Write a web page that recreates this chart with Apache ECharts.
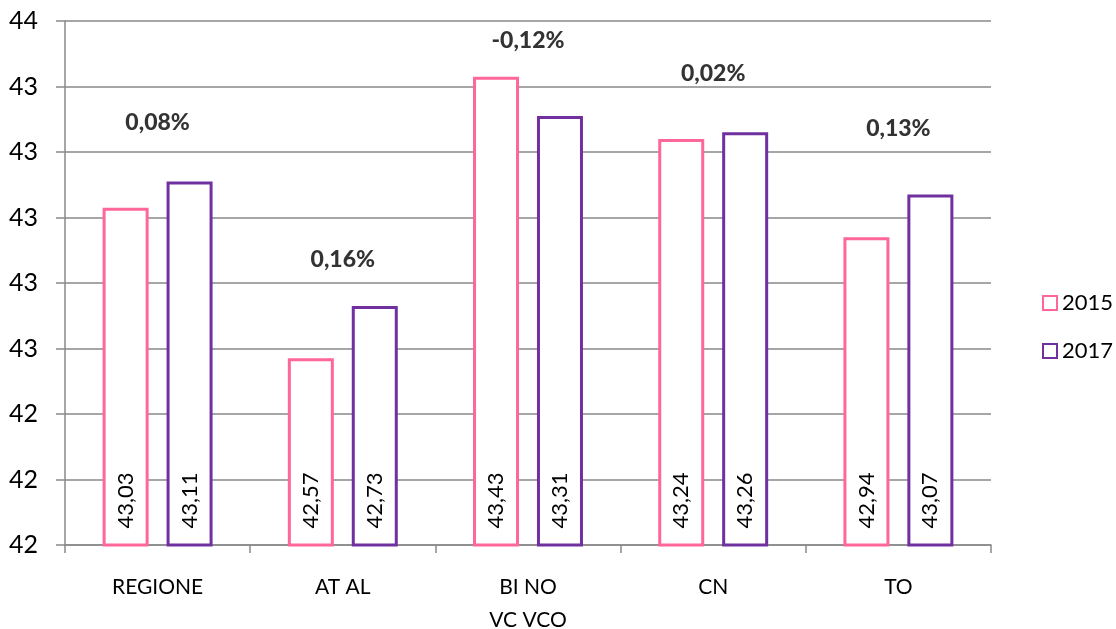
<!DOCTYPE html>
<html>
<head>
<meta charset="utf-8">
<script src="https://cdn.jsdelivr.net/npm/echarts@6/dist/echarts.min.js"></script>
<style>
  html, body { margin: 0; padding: 0; background: #fff; }
  #chart { width: 1116px; height: 629px; }
</style>
</head>
<body>
<div id="chart"></div>
<script>
// Average age by area, 2015 vs 2017
const categories = ['REGIONE', 'AT AL', 'BI NO\nVC VCO', 'CN', 'TO'];
const values2015 = [43.03, 42.57, 43.43, 43.24, 42.94];
const values2017 = [43.11, 42.73, 43.31, 43.26, 43.07];
// Percent change labels and the axis value at which each is written
const changeLabels = ['0,08%', '0,16%', '-0,12%', '0,02%', '0,13%'];
const changeAnchor = [43.29, 42.87, 43.54, 43.44, 43.27];

const FONT = 'Lato, "Liberation Sans", sans-serif';
const PINK = '#FF6699';
const PURPLE = '#7030A0';
const GRID = '#898989';

const fmt = v => v.toFixed(2).replace('.', ',');

function barSeries(name, data, color) {
  return {
    name: name,
    type: 'bar',
    data: data,
    barWidth: 46,
    barGap: '39%',
    itemStyle: { color: '#ffffff', borderColor: color, borderWidth: 3 },
    label: {
      show: true,
      position: 'insideBottom',
      rotate: 90,
      align: 'left',
      verticalAlign: 'middle',
      distance: 18,
      fontFamily: FONT,
      fontSize: 22,
      color: '#000',
      formatter: p => fmt(p.value)
    }
  };
}

const chart = echarts.init(document.getElementById('chart'));
chart.setOption({
  animation: false,
  grid: { left: 65, right: 125, top: 21, bottom: 84, containLabel: false, outerBoundsMode: 'none' },
  legend: {
    data: ['2015', '2017'],
    orient: 'vertical',
    left: 1037,
    top: 287,
    itemWidth: 14,
    itemHeight: 14,
    itemGap: 26,
    icon: 'rect',
    textStyle: { fontFamily: FONT, fontSize: 22, color: '#000' }
  },
  xAxis: {
    type: 'category',
    data: categories,
    axisLine: { lineStyle: { color: GRID, width: 1.5 } },
    axisTick: { show: true, length: 8, lineStyle: { color: GRID, width: 1.5 } },
    axisLabel: {
      margin: 26,
      fontFamily: FONT,
      fontSize: 21,
      color: '#000',
      lineHeight: 33
    }
  },
  yAxis: {
    type: 'value',
    min: 42,
    max: 43.6,
    interval: 0.2,
    axisLine: { show: true, lineStyle: { color: GRID, width: 1.5 } },
    axisTick: { show: true, length: 9, lineStyle: { color: GRID, width: 1.5 } },
    splitLine: { lineStyle: { color: GRID, width: 1.5 } },
    axisLabel: {
      margin: 27,
      fontFamily: FONT,
      fontSize: 25,
      color: '#000',
      formatter: v => Math.round(v).toString()
    }
  },
  series: [
    barSeries('2015', values2015, PINK),
    barSeries('2017', values2017, PURPLE),
    {
      name: 'variazione',
      type: 'scatter',
      data: changeAnchor,
      symbolSize: 0,
      silent: true,
      z: 5,
      label: {
        show: true,
        position: 'inside',
        fontFamily: FONT,
        fontSize: 23,
        fontWeight: 900,
        color: '#000',
        formatter: p => changeLabels[p.dataIndex]
      }
    }
  ]
});
</script>
</body>
</html>
